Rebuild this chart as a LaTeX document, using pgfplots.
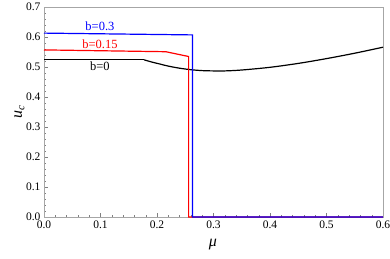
\documentclass[border=0pt]{standalone}
\usepackage{fontspec}
\setmainfont{Liberation Serif}
\usepackage{pgfplots}
\pgfplotsset{compat=1.18}
\begin{document}
\begin{tikzpicture}
\begin{axis}[
  scale only axis, width=339pt, height=210pt,
  xmin=0, xmax=0.6, ymin=0, ymax=0.7,
  xtick={0,0.1,...,0.6}, ytick={0,0.1,...,0.7},
  minor x tick num=4, minor y tick num=4,
  xtick pos=bottom, ytick pos=left,
  tick align=inside,
  major tick length=4pt, minor tick length=2pt,
  every tick/.style={gray, thin},
  axis line style={gray!70},
  tick label style={font=\fontsize{11.5}{12}\selectfont},
  /pgf/number format/assume math mode=true,
  /pgf/number format/.cd, fixed, fixed zerofill, precision=1, /pgfplots/.cd,
  xlabel={\textit{μ}}, ylabel={\textit{u}\raisebox{-0.35ex}{\fontsize{11}{11}\selectfont\textit{c}}},
  label style={font=\fontsize{16}{17}\selectfont},
  xlabel style={at={(axis description cs:0.498,-0.129)}, anchor=center},
  ylabel style={at={(axis description cs:-0.072,0.5)}, anchor=center, rotate=0},
  clip=false,
]
\addplot[black, line width=1.2pt] coordinates {(0,0.524) (0.177,0.524)};
\addplot[black, line width=1.2pt, smooth, tension=0.5] coordinates {
(0.177,0.524) (0.19,0.517) (0.205,0.510) (0.22,0.503) (0.24,0.496) (0.26,0.491) (0.28,0.488) (0.30,0.487) (0.32,0.487) (0.35,0.490) (0.40,0.499) (0.45,0.512) (0.50,0.528) (0.55,0.546) (0.60,0.566)};
\addplot[red, line width=1.2pt] coordinates {
(0,0.557) (0.2156,0.551) (0.256,0.535) (0.256,0) (0.6,0)};
\addplot[blue, line width=1.2pt] coordinates {
(0,0.613) (0.263,0.607) (0.263,0) (0.6,0)};
\node[blue, font=\fontsize{12.5}{13}\selectfont] at (axis cs:0.099,0.6375) {b=0.3};
\node[red, font=\fontsize{12.5}{13}\selectfont] at (axis cs:0.099,0.577) {b=0.15};
\node[black, font=\fontsize{12.5}{13}\selectfont] at (axis cs:0.099,0.504) {b=0};
\end{axis}
\pgfresetboundingbox
\path[use as bounding box] (-44pt,-41pt) rectangle (346pt,217pt);
\end{tikzpicture}
\end{document}
